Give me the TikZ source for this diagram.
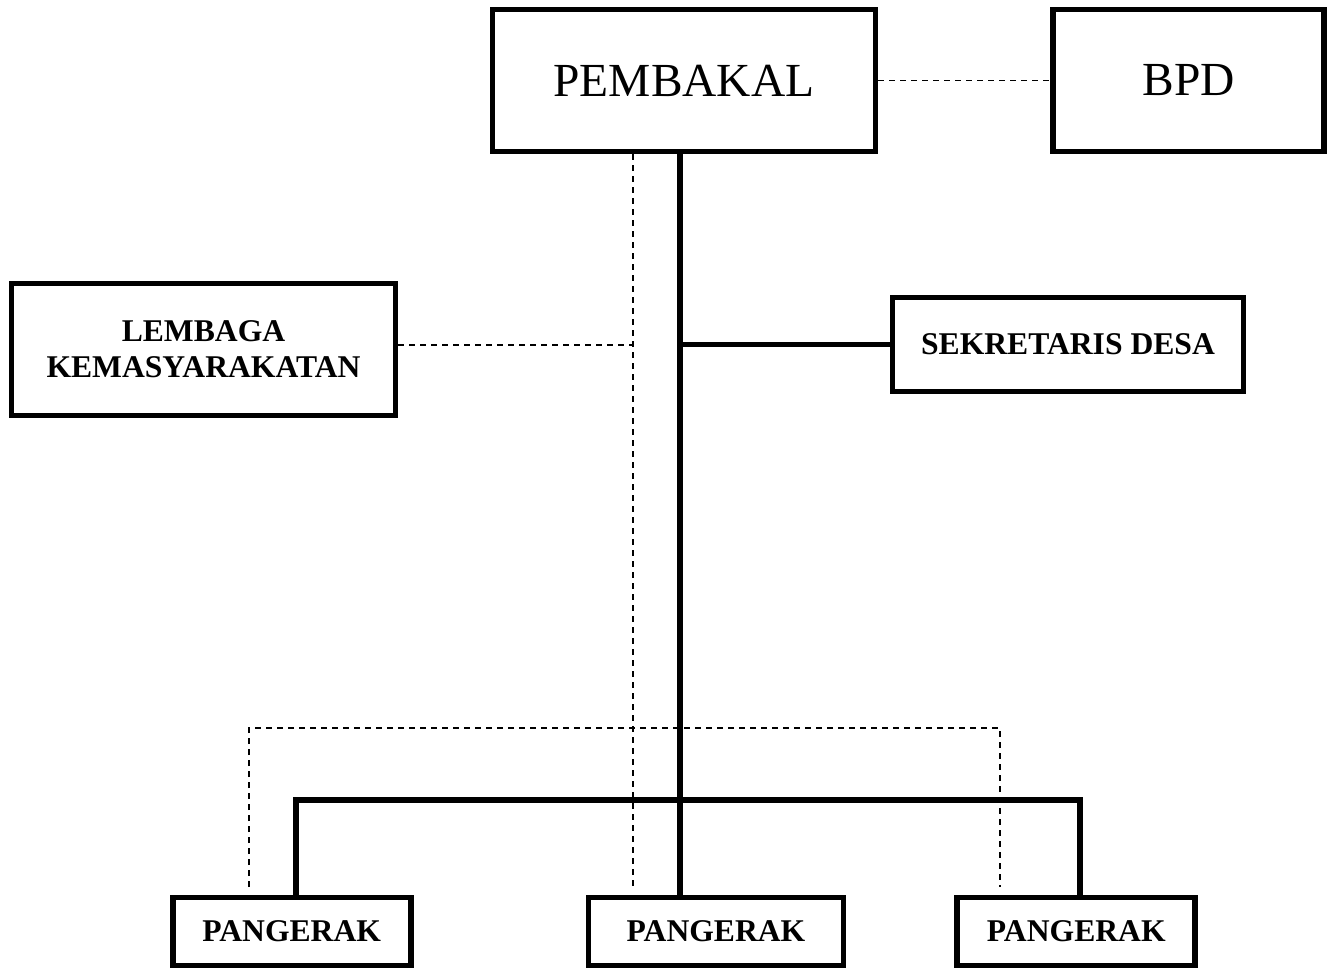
\documentclass[tikz,border=0pt]{standalone}
\usepackage{fontspec}
\setmainfont{Liberation Serif}
\usetikzlibrary{positioning}

\begin{document}
\begin{tikzpicture}[main/.style = {draw, rectangle, line width=3.3pt, inner sep=0pt},
    bold/.style = {main, font=\fontsize{18}{20.5}\selectfont\bfseries},
    link/.style = {line width=0.9pt, dash pattern=on 0.12cm off 0.1cm},
    bar/.style = {line width=3pt, line join=miter}]
    \useasboundingbox (0,0) rectangle (26.66,-19.4);
    % top row
    \node[main, minimum width=7.66cm, minimum height=2.84cm, font=\fontsize{27}{30}\selectfont] (pk) at (13.68,-1.61) {PEMBAKAL};
    \node[main, minimum width=5.42cm, minimum height=2.84cm, font=\fontsize{27}{30}\selectfont] (bpd) [right=3.44cm of pk] {BPD};
    % middle row
    \node[bold, minimum width=7.68cm, minimum height=2.64cm, align=center] (lk) at (4.07,-6.99) {LEMBAGA\\KEMASYARAKATAN};
    \node[bold, minimum width=7.02cm, minimum height=1.88cm] (sd) at (21.36,-6.89) {SEKRETARIS DESA};
    % bottom row
    \node[bold, minimum width=5.1cm, minimum height=1.36cm] (p2) at (14.32,-18.63) {PANGERAK};
    \node[bold, minimum width=4.76cm, minimum height=1.36cm] (p1) [left=3.44cm of p2] {PANGERAK};
    \node[bold, minimum width=4.76cm, minimum height=1.36cm] (p3) [right=2.16cm of p2] {PANGERAK};
    \coordinate (trunk) at (13.6,-16.0);
    \coordinate (barL) at (5.92,-16.0);
    \coordinate (barR) at (21.6,-16.0);
    \coordinate (dv) at (12.66,-6.9);
    \coordinate (dL) at (4.98,-14.56);
    \coordinate (dR) at (20.0,-14.56);
    % solid lines
    \draw[bar] (pk.south -| trunk) -- (p2.north -| trunk);
    \draw[bar] (trunk |- sd.west) -- (sd.west);
    \draw[bar] (p1.north -| barL) -- (barL) -- (barR) -- (p3.north -| barR);
    % dashed lines
    \draw[link] (pk.east) -- (bpd.west);
    \draw[link] (pk.south -| dv) -- (dv |- 0,-17.74);
    \draw[link] (lk.east |- dv) -- (dv);
    \draw[link] (dL |- 0,-17.74) -- (dL) -- (dR) -- (dR |- 0,-17.74);
\end{tikzpicture}
\end{document}
